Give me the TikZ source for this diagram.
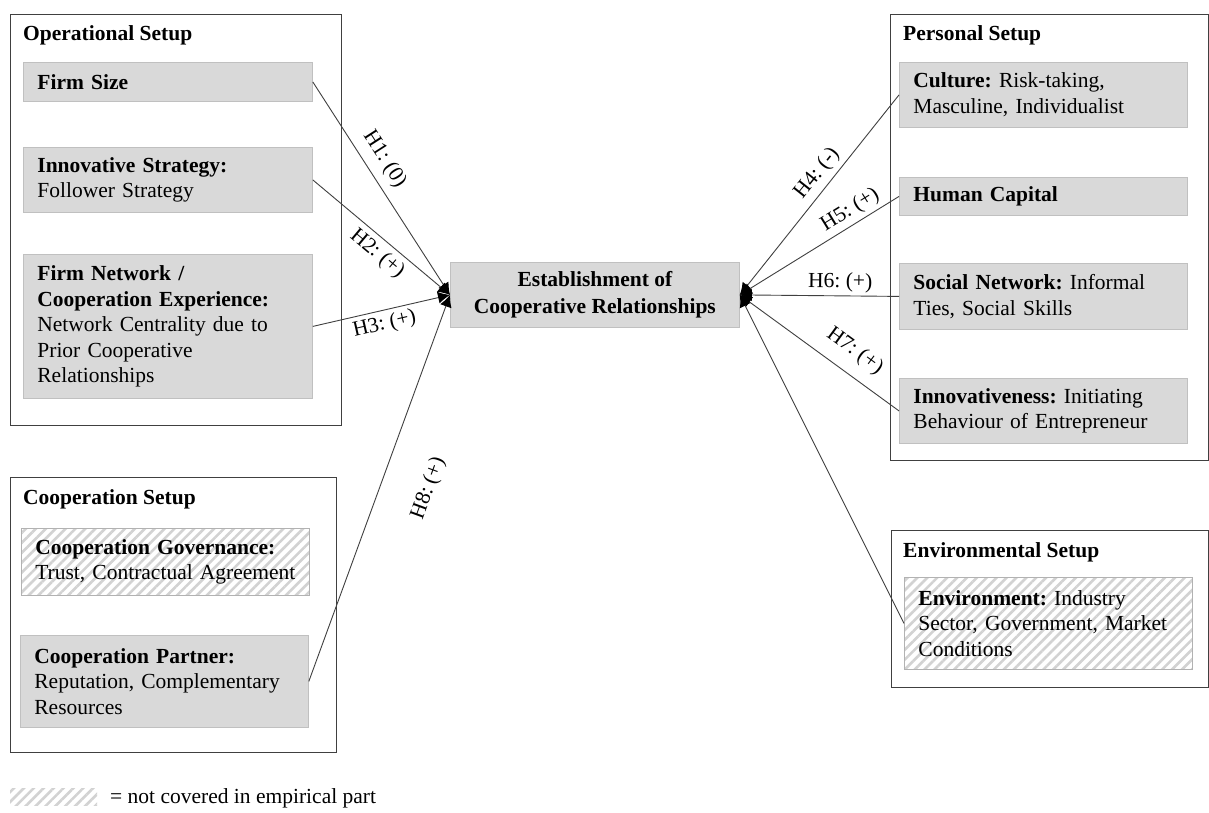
\documentclass[tikz,border=0pt]{standalone}
\usepackage{fontspec}
\setmainfont{Liberation Serif}
\usetikzlibrary{arrows.meta,patterns.meta}
\definecolor{boxgray}{HTML}{D9D9D9}
\definecolor{boxline}{HTML}{C0C0C0}
\definecolor{frameline}{HTML}{404040}
\definecolor{linkline}{HTML}{404040}
\definecolor{hatchcol}{HTML}{D2D2D2}
\newcommand\keep[1]{\mbox{#1}}
\begin{document}
\frenchspacing
\begin{tikzpicture}[x=1pt,y=-1pt,
  txt/.style={font=\fontsize{21.5}{25.5}\selectfont\frenchspacing},
  frame/.style={draw=frameline,line width=1.2pt,anchor=north west,inner sep=0pt},
  title/.style={txt,font=\fontsize{21.5}{25.5}\selectfont\bfseries,anchor=base west,inner sep=0pt},
  item/.style={txt,fill=boxgray,draw=boxline,line width=0.8pt,anchor=north west,
    inner xsep=14pt,inner ysep=0pt,align=left,text width=#1},
  hatched/.style={item=#1,fill=white,draw=hatchcol!85!black,
    pattern={Lines[angle=45,distance=7pt,line width=2.6pt]},pattern color=hatchcol},
  link/.style={draw=linkline,line width=0.9pt,-{Latex[length=12pt,width=12pt,black]}},
  hlab/.style={txt,inner sep=0pt,sloped}]
\useasboundingbox (0,0) rectangle (1209,812);
\fill[white] (0,0) rectangle (1209,812);

% frames
\node[frame,minimum width=331pt,minimum height=411pt] (opf) at (10,14) {};
\node[frame,minimum width=318pt,minimum height=446pt] (pef) at (890,14) {};
\node[frame,minimum width=326pt,minimum height=275pt] (cof) at (10,477) {};
\node[frame,minimum width=317pt,minimum height=157pt] (evf) at (891,530) {};

% titles
\node[title] (opt) at (23,40) {Operational Setup};
\node[title] (pet) at (903,40) {Personal Setup};
\node[title] (cot) at (23,504) {Cooperation Setup};
\node[title] (evt) at (903,557) {Environmental Setup};

% left items
\node[item=261pt,minimum height=39pt] (fs) at (23,62) {\textbf{Firm Size}};
\node[item=261pt,minimum height=65pt] (is) at (23,147) {\textbf{Innovative Strategy:}\\Follower Strategy};
\node[item=261pt,minimum height=144pt] (fn) at (23,254) {\textbf{Firm Network /}\\\keep{\textbf{Cooperation Experience:}}\\\keep{Network Centrality due to}\\Prior Cooperative\\Relationships};
\node[hatched=260pt,minimum height=67pt] (cg) at (20,527) {\keep{\textbf{Cooperation Governance:}}\\\keep{Trust, Contractual Agreement}};
\node[item=260pt,minimum height=92pt] (cp) at (20,635) {\keep{\textbf{Cooperation Partner:}}\\\keep{Reputation, Complementary}\\Resources};

% right items
\node[item=260pt,minimum height=65pt] (cu) at (899,62) {\keep{\textbf{Culture:} Risk-taking,}\\\keep{Masculine, Individualist}};
\node[item=260pt,minimum height=38pt] (hc) at (899,177) {\textbf{Human Capital}};
\node[item=260pt,minimum height=66pt] (sn) at (899,263) {\keep{\textbf{Social Network:} Informal}\\\keep{Ties, Social Skills}};
\node[item=260pt,minimum height=65pt] (iv) at (899,378) {\keep{\textbf{Innovativeness:} Initiating}\\\keep{Behaviour of Entrepreneur}};
\node[hatched=260pt,minimum height=92pt] (en) at (904,577) {\keep{\textbf{Environment:} Industry}\\\keep{Sector, Government, Market}\\Conditions};

% centre
\node[txt,fill=boxgray,draw=boxline,line width=0.8pt,anchor=north west,align=center,
  minimum width=289pt,minimum height=65pt,inner sep=0pt,font=\fontsize{21.5}{27}\selectfont\bfseries] (est) at (450,262)
  {Establishment of\\Cooperative Relationships};

% connectors with labels
\draw[link] (fs.east) -- node[hlab,pos=0.41,above=8pt] (l1) {H1: (0)} (est.west);
\draw[link] (is.east) -- node[hlab,pos=0.54,below=5pt] (l2) {H2: (+)} (est.west);
\draw[link] (fn.east) -- node[hlab,pos=0.50,below=4pt] (l3) {H3: (+)} (est.west);
\draw[link] (cp.east) -- node[hlab,pos=0.54,below=36pt] (l8) {H8: (+)} (est.west);
\draw[link] (cu.west) -- node[hlab,pos=0.44,above=5pt] (l4) {H4: (-)} (est.east);
\draw[link] (hc.west) -- node[hlab,pos=0.26,above=4pt] (l5) {H5: (+)} (est.east);
\draw[link] (sn.west) -- node[hlab,pos=0.37,above=3pt] (l6) {H6: (+)} (est.east);
\draw[link] (iv.west) -- node[hlab,pos=0.36,above=12pt] (l7) {H7: (+)} (est.east);
\draw[link] (en.west) -- (est.east);

% legend
\node[anchor=north west,inner sep=0pt,minimum width=87pt,minimum height=17pt,
  pattern={Lines[angle=45,distance=7pt,line width=2.6pt]},pattern color=hatchcol] (leg) at (10,788) {};
\node[txt,anchor=base west,inner sep=0pt] (legt) at (110,803) {= not covered in empirical part};
\end{tikzpicture}
\end{document}
